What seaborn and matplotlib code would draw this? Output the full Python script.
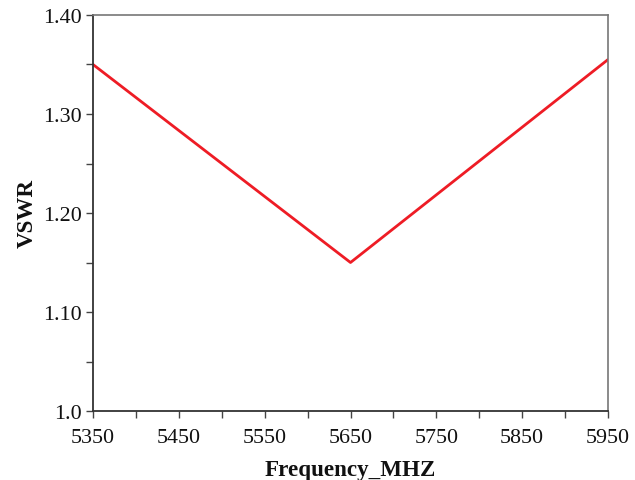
import numpy as np
import pandas as pd
import seaborn as sns
import matplotlib
matplotlib.use('Agg')
import matplotlib.pyplot as plt
from matplotlib.ticker import MultipleLocator, FixedFormatter, FixedLocator

# data
freq = [5350, 5650, 5950]
vswr = [1.35, 1.15, 1.355]
ytick_vals = [1.0, 1.1, 1.2, 1.3, 1.4]
ytick_labels = ['1.0', '1.10', '1.20', '1.30', '1.40']
xtick_vals = [5350, 5450, 5550, 5650, 5750, 5850, 5950]

df = pd.DataFrame({'Frequency_MHZ': freq, 'VSWR': vswr})

sns.set_style('white')
plt.rcParams['font.family'] = ['Liberation Serif', 'DejaVu Serif']

fig = plt.figure(figsize=(6.35, 4.81), dpi=100)
ax = fig.add_axes([93 / 635, 1 - 412 / 481, (608 - 93) / 635, (412 - 16) / 481])

sns.lineplot(data=df, x='Frequency_MHZ', y='VSWR', color='#ee1c25', linewidth=2, ax=ax)

ax.set_xlim(5350, 5950)
ax.set_ylim(1.0, 1.4)
ax.xaxis.set_major_locator(FixedLocator(xtick_vals))
ax.xaxis.set_minor_locator(MultipleLocator(50))
ax.yaxis.set_major_locator(FixedLocator(ytick_vals))
ax.yaxis.set_major_formatter(FixedFormatter(ytick_labels))
ax.yaxis.set_minor_locator(MultipleLocator(0.05))

ax.tick_params(axis='both', which='both', direction='out', length=5, width=1,
               color='#444444', labelsize=15.8, labelcolor='#111111',
               left=True, bottom=True, top=False, right=False)
ax.tick_params(axis='x', which='both', pad=7)
ax.tick_params(axis='y', which='both', pad=3)

for s in ['left', 'bottom']:
    ax.spines[s].set_color('#333333')
    ax.spines[s].set_linewidth(1.3)
for s in ['top', 'right']:
    ax.spines[s].set_color('#777777')
    ax.spines[s].set_linewidth(1.2)

ax.set_xlabel('Frequency_MHZ', fontsize=16.6, fontweight='bold', labelpad=9, color='#111111')
ax.set_ylabel('VSWR', fontsize=16.6, fontweight='bold', labelpad=4, color='#111111')

fig.savefig('out.png', dpi=100)
